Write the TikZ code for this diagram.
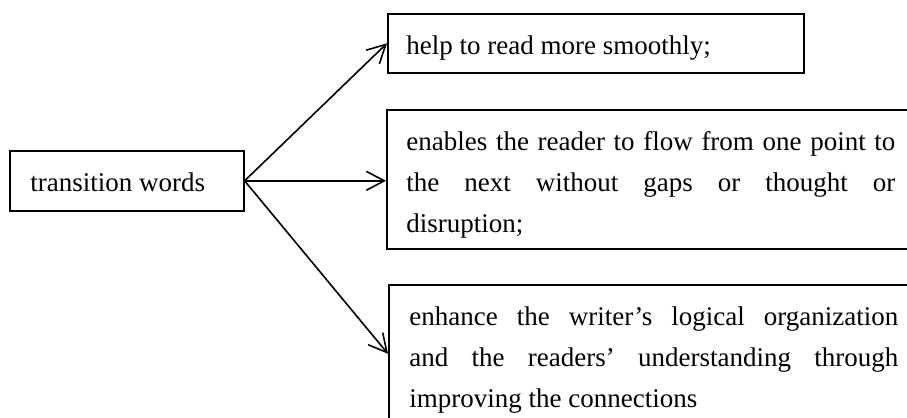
\documentclass[tikz,border=0pt]{standalone}
\usepackage{fontspec}
\setmainfont{Liberation Serif}
\usetikzlibrary{arrows.meta}
\hyphenpenalty=10000
\exhyphenpenalty=10000
\begin{document}
\begin{tikzpicture}[x=0.5pt,y=-0.5pt,
  box/.style={draw, line width=0.8pt, inner sep=0pt, anchor=north west},
  label text/.style={inner sep=0pt, anchor=north west, font=\fontsize{13.5pt}{20.5pt}\selectfont},
  para text/.style={label text, text width=244.5pt, align=justify},
  arr/.style={line width=0.8pt, -{Straight Barb[length=9pt,width=9.5pt]}}]
\useasboundingbox (0,0) rectangle (907,418);
\fill[white] (0,0) rectangle (907,418);
\clip (0,0) rectangle (907,418);
% boxes
\node[box, minimum width=117pt, minimum height=30pt] (tw) at (9,150) {};
\node[box, minimum width=208pt, minimum height=29.5pt] (b1) at (387,13) {};
\node[box, minimum width=264.5pt, minimum height=69.5pt] (b2) at (386,109) {};
\node[box, minimum width=265pt, minimum height=69pt] (b3) at (388,284) {};
% texts
\node[label text] (twt) at (30,171) {\rule{0pt}{10pt}transition words};
\node[label text] (b1t) at (406,34) {\rule{0pt}{10pt}help to read more smoothly;};
\node[para text] (b2t) at (406,130) {\rule{0pt}{10pt}enables the reader to flow from one point to\linebreak the next without gaps or thought or\linebreak disruption;};
\node[para text] (b3t) at (409,305) {\rule{0pt}{10pt}enhance the writer’s logical organization\linebreak and the readers’ understanding through\linebreak improving the connections};
% connectors
\draw[arr] (tw.east) -- (b1.west);
\draw[arr] (tw.east) -- (tw.east -| b2.west);
\draw[arr] (tw.east) -- (b3.west);
\end{tikzpicture}
\end{document}
